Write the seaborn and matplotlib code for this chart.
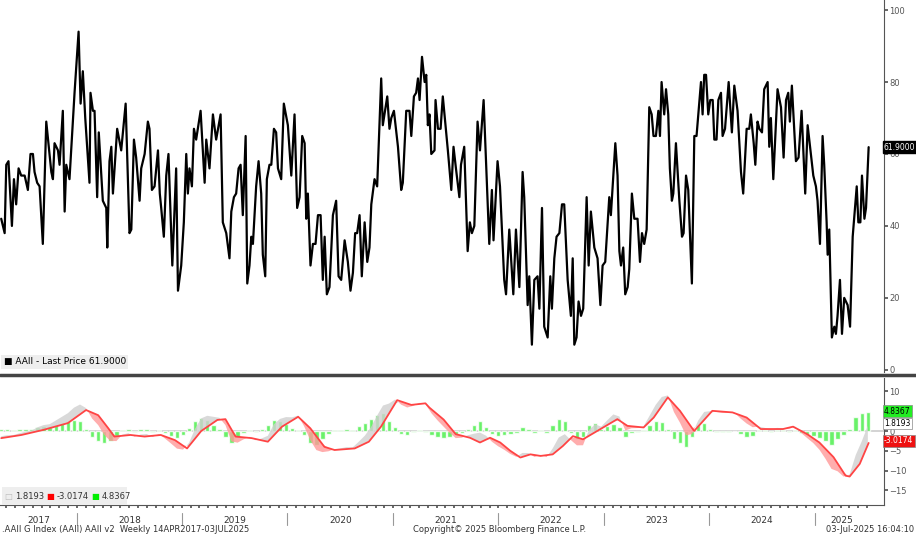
import matplotlib

matplotlib.use("Agg")
import matplotlib.pyplot as plt
import matplotlib.transforms as mtransforms
from matplotlib.patches import Rectangle
import numpy as np
import pandas as pd
import seaborn as sns

sns.set_theme(style="white")
plt.rcParams["font.family"] = ["DejaVu Sans"]

START = pd.Timestamp("2017-04-14")

# AAII index (weeks since 14-Apr-2017, value)
aaii_week = [
    0, 1.7, 2.5, 3.6, 5.3, 6.3, 7.4, 8.6, 9.9, 11.6, 13.2, 14.5, 15.7, 16.5, 17.8, 19.0,
    20.6, 22.3, 24.8, 25.6, 26.4, 28.1, 28.9, 30.5, 31.4, 32.2, 33.8, 36.3, 38.3, 39.3,
    40.4, 41.6, 43.7, 44.2, 45.4, 46.2, 47.5, 48.3, 50.3, 52.0, 52.5, 53.6, 54.5, 55.3,
    57.4, 59.4, 61.6, 63.5, 64.4, 65.7, 66.8, 68.5, 69.3, 71.0, 72.6, 73.4, 74.6, 75.9,
    77.6, 78.5, 79.2, 80.5, 81.7, 82.8, 84.7, 86.6, 87.5, 89.1, 90.4, 91.6, 92.4, 93.2,
    94.4, 95.4, 96.5, 98.7, 100.7, 101.5, 103.1, 104.8, 106.4, 108.6, 109.7, 111.4,
    113.0, 113.9, 115.2, 116.3, 117.5, 118.5, 119.6, 121.0, 121.8, 122.9, 123.8, 124.6,
    126.2, 127.4, 128.7, 129.5, 130.7, 131.5, 132.8, 133.7, 135.0, 136.1, 137.0, 138.6,
    139.9, 141.9, 143.6, 145.2, 146.5, 147.7, 149.0, 150.2, 151.0, 151.8, 153.1, 154.3,
    155.6, 156.8, 158.1, 159.2, 160.1, 161.2, 162.5, 164.2, 165.8, 167.0, 168.3, 170.0,
    171.6, 172.9, 174.1, 175.2, 176.2, 177.4, 178.5, 179.9, 181.2, 182.3, 183.2, 184.8,
    186.1, 188.1, 188.9, 191.1, 192.2, 193.1, 194.4, 196.4, 198.0, 198.8, 200.5, 202.1,
    203.0, 204.3, 205.4, 206.3, 207.1, 208.3, 209.6, 210.4, 211.2, 212.0, 212.9, 214.5,
    215.0, 216.2, 217.5, 218.6, 221.1, 222.8, 223.9, 225.1, 226.8, 227.6, 229.2, 230.9,
    232.0, 233.0, 234.2, 235.8, 237.0, 238.8, 241.6, 242.9, 243.7, 245.7, 246.9, 249.0,
    249.9, 251.5, 253.5, 254.8, 256.5, 258.1, 258.9, 260.6, 261.4, 262.7, 263.9, 265.5,
    266.4, 267.7, 268.8, 270.5, 271.8, 272.6, 273.8, 274.9, 276.3, 277.6, 278.7, 280.4,
    282.0, 282.9, 283.7, 284.8, 285.8, 287.0, 288.1, 289.8, 290.8, 291.9, 293.6, 295.2,
    296.6, 297.7, 299.0, 301.0, 301.8, 304.0, 305.1, 306.0, 306.8, 307.9, 308.9, 310.1,
    310.9, 312.2, 313.4, 315.0, 316.2, 317.2, 318.3, 319.5, 320.8, 322.0, 322.9, 324.1,
    325.3, 326.1, 326.9, 328.2, 329.1, 330.2, 331.0, 332.0, 332.7, 334.0, 335.7, 337.0,
    337.8, 339.0, 340.1, 341.9, 343.1, 344.2, 346.4, 347.2, 348.0, 348.9, 350.0, 351.0,
    352.2, 353.0, 354.1, 355.0, 356.3, 357.1, 358.3, 360.1, 361.7, 362.9, 364.5, 366.2,
    367.3, 369.0, 370.3, 371.1, 372.5, 373.3, 374.4, 375.3, 376.6, 377.7, 379.4, 380.2,
    381.0, 382.2, 384.3, 386.0, 387.3, 388.5, 389.6, 390.4, 391.4, 393.4, 394.7, 396.2,
    398.0, 399.2, 400.8, 402.0, 403.3, 404.1, 405.3, 406.6, 407.4, 408.6, 409.1, 409.9,
    411.2, 412.4, 413.2, 414.0, 415.2, 416.2, 417.3, 419.0, 420.2, 421.5, 422.8, 423.5,
    424.3, 425.3, 426.1, 427.3, 428.1, 429.4,
]
aaii_value = [
    42, 38, 57, 58, 40, 53, 46, 56, 54, 54, 50, 60, 60, 55, 52, 51,
    35, 69, 55, 53, 63, 61, 57, 72, 44, 57, 53, 77, 94, 74,
    83, 70, 52, 77, 72, 72, 48, 66, 47, 45, 34, 58, 62, 49,
    67, 61, 74, 38, 39, 64, 59, 47, 56, 60, 69, 67, 50, 51,
    61, 49, 45, 37, 54, 60, 29, 56, 22, 29, 41, 60, 49, 56,
    51, 67, 64, 72, 52, 64, 56, 71, 64, 71, 41, 38,
    31, 44, 48, 49, 56, 57, 43, 65, 24, 29, 37, 35,
    51, 58, 49, 32, 26, 53, 57, 57, 67, 66, 56, 53,
    74, 68, 54, 71, 45, 48, 65, 63, 42, 49, 29, 35,
    35, 43, 43, 25, 37, 21, 23, 43, 47, 26, 25, 36,
    30, 22, 27, 38, 38, 43, 26, 41, 30, 34, 46, 53,
    51, 81, 68, 76, 67, 70, 72, 62, 50, 52, 72, 72,
    65, 76, 77, 81, 75, 87, 80, 82, 68, 71, 60, 61,
    75, 67, 67, 76, 61, 50, 62, 56, 48, 57, 62, 33,
    41, 38, 40, 69, 61, 75, 35, 50, 36, 58, 51, 25,
    21, 39, 21, 39, 23, 55, 48, 18, 26, 7, 25, 26,
    17, 45, 12, 9, 26, 17, 31, 37, 38, 46, 46, 25,
    15, 31, 7, 9, 19, 15, 17, 48, 29, 44, 34, 31,
    18, 29, 30, 48, 43, 63, 54, 33, 29, 34, 21, 23,
    28, 49, 42, 42, 30, 38, 35, 39, 73, 71, 65, 65,
    72, 65, 80, 71, 78, 71, 56, 47, 49, 63, 47, 37,
    38, 54, 50, 24, 65, 65, 80, 71, 82, 82, 71, 75,
    75, 64, 64, 75, 77, 65, 67, 80, 66, 79, 72, 55,
    49, 67, 67, 71, 63, 57, 69, 67, 66, 78, 80, 62,
    70, 53, 78, 73, 59, 75, 77, 69, 79, 58, 59, 72,
    49, 68, 60, 54, 51, 47, 35, 65, 57, 41, 32, 39,
    9, 12, 10, 15, 25, 10, 20, 18, 12, 37, 46, 51,
    41, 41, 54, 42, 45, 61.9,
]

# signal line (red), read at knots
signal_week = [0, 10, 21, 33, 42, 48, 53, 56, 64, 71, 79, 86, 92, 99, 107, 111, 116, 124,
               132, 139, 147, 153, 160, 165, 175, 182, 188, 196, 203, 210, 212, 219, 225,
               232, 237, 242, 247, 252, 257, 262, 267, 273, 278, 283, 288, 295, 305, 310,
               318, 323, 330, 336, 343, 352, 362, 369, 376, 387, 392, 399, 405, 412, 418,
               420, 425, 429.4]
signal_value = [-1.8, -1.0, 0.3, 2.0, 5.3, 4.0, 0.7, -1.4, -1.0, -1.4, -1.0, -2.3, -4.4, 0.0,
                2.8, 3.0, -1.4, -1.8, -2.7, 1.1, 3.6, 0.7, -4.0, -4.8, -4.4, -2.7, 1.1, 7.8,
                6.6, 7.0, 5.9, 2.9, -0.8, -1.7, -2.9, -1.7, -2.9, -5.0, -6.7, -5.9, -6.3,
                -5.9, -3.8, -1.3, -2.1, 0.0, 3.0, 1.3, 0.9, 3.4, 8.5, 5.1, 0.0, 5.1, 4.7,
                3.4, 0.5, 0.5, 1.1, -0.8, -2.9, -6.6, -11.3, -11.5, -8.3, -3.0174]

# histogram (green), every 3 weeks
hist_week = list(range(0, 430, 3))
hist_value = [
    0.5, 0.5, 0.3, 0.5, 0.6, 0.5, 1.0, 1.2, 1.0, 1.5, 2.0, 2.5, 2.8, 2.5, 0.5, -1.5,
    -2.5, -3.0, -2.5, -1.2, 0.3, 0.5, -0.3, 0.4, 0.6, -0.3, 0.3, -0.5, -1.2, -1.8, -1.0,
    0.8, 2.5, 3.2, 2.8, 1.5, 0.5, -1.5, -3.0, -1.5, -0.5, 0.3, -0.3, 0.5, 1.5, 2.8, 2.5,
    1.8, 0.8, 0.3, -1.0, -3.0, -3.5, -2.0, -0.8, 0.2, 0.3, 0.5, 0.3, 1.2, 2.0, 3.0, 4.0,
    4.5, 2.5, 1.0, -0.8, -1.0, -0.3, 0.3, -0.2, -1.0, -1.5, -1.8, -1.5, -1.0, -0.5, 0.5,
    1.5, 2.5, 1.0, -0.8, -1.2, -1.0, -0.8, -0.5, 1.0, 0.5, -0.5, 0.3, -0.5, 1.5, 3.0,
    2.5, -0.5, -2.0, -1.5, 1.5, 2.0, 0.5, 1.2, 1.8, 1.0, -1.5, -0.5, -0.3, 0.3, 1.5, 2.5,
    2.3, 0.5, -2.0, -3.0, -4.0, -1.5, 1.5, 2.0, 0.5, -0.2, -0.3, -0.2, 0.1, -0.8, -1.5,
    -1.2, 0.2, 0.3, -0.2, 0.3, 0.2, -0.3, 0.3, -0.5, -1.0, -1.2, -1.8, -2.5, -3.5, -2.0,
    -1.0, 0.5, 3.5, 4.5, 4.8367,
]

years = list(range(2017, 2026))

main = pd.DataFrame({"week": aaii_week, "AAII": aaii_value})
sig = pd.DataFrame({"week": signal_week, "signal": signal_value})
hist = pd.DataFrame({"week": hist_week, "hist": hist_value})
hist["signal"] = np.interp(hist["week"], sig["week"], sig["signal"])
hist["macd"] = hist["signal"] + hist["hist"]

fig = plt.figure(figsize=(9.16, 5.36), dpi=100)
ax1 = fig.add_axes([0, 1 - 372 / 536, 884 / 916, 372 / 536])
ax2 = fig.add_axes([0, 1 - 505 / 536, 884 / 916, 127 / 536])
XMAX = 437
TXT = "#333333"

# top panel
sns.lineplot(data=main, x="week", y="AAII", ax=ax1, color="black", lw=1.6)
ax1.set_xlim(-0.6, XMAX)
ax1.set_ylim(-0.6, 102.8)
ax1.yaxis.tick_right()
ax1.set_yticks([0, 20, 40, 60, 80, 100])
ax1.tick_params(axis="y", labelsize=6, colors="#555555", length=3, pad=1, direction="out")
ax1.set_xticks([])
ax1.set_xlabel("")
ax1.set_ylabel("")
for s in ["top", "left", "bottom"]:
    ax1.spines[s].set_visible(False)
ax1.spines["right"].set_color("#555555")
ax1.spines["right"].set_linewidth(0.8)
ax1.text(1.0, 61.9, "61.9000", transform=ax1.get_yaxis_transform(), fontsize=5.5,
         color="white", va="center", ha="left",
         bbox=dict(boxstyle="square,pad=0.15", fc="black", ec="black"))
ax1.text(0.004, 0.015, "\u25a0 AAII - Last Price 61.9000", transform=ax1.transAxes,
         fontsize=6.5, color="black", va="bottom",
         bbox=dict(boxstyle="square,pad=0.3", fc="#eeeeee", ec="none"))

# lower panel
ax2.axhline(0, color="#cccccc", lw=1.2, zorder=0)
ax2.bar(hist["week"], hist["hist"], width=2.2, color="#44ee44", alpha=0.8, zorder=1)
ax2.fill_between(hist["week"], hist["signal"], hist["macd"],
                 where=hist["macd"] >= hist["signal"], interpolate=True,
                 color="#d0d0d0", alpha=0.8, lw=0, zorder=2)
ax2.fill_between(hist["week"], hist["signal"], hist["macd"],
                 where=hist["macd"] < hist["signal"], interpolate=True,
                 color="#ff9999", alpha=0.8, lw=0, zorder=2)
sns.lineplot(data=sig, x="week", y="signal", ax=ax2, color="#ff4444", lw=1.3, zorder=3)
ax2.set_xlim(-0.6, XMAX)
ax2.set_ylim(-18.7, 13.4)
ax2.yaxis.tick_right()
ax2.set_yticks([10, 5, 0, -5, -10, -15])
ax2.tick_params(axis="y", labelsize=6, colors="#555555", length=3, pad=1, direction="out")
ax2.set_xlabel("")
ax2.set_ylabel("")
for s in ["top", "left"]:
    ax2.spines[s].set_visible(False)
ax2.spines["right"].set_color("#555555")
ax2.spines["bottom"].set_color("#555555")
ax2.spines["right"].set_linewidth(0.8)
ax2.spines["bottom"].set_linewidth(0.8)

tags = [(4.8367, "4.8367", "#22ee22", "black"),
        (1.8193, "1.8193", "white", "black"),
        (-3.0174, "-3.0174", "#ee1111", "white")]
offsets = [0.2, 0.0, 0.5]
for (v, label, fc, tc), off in zip(tags, offsets):
    ax2.text(1.0, v + off, label, transform=ax2.get_yaxis_transform(), fontsize=5.5,
             color=tc, va="center", ha="left", zorder=6,
             bbox=dict(boxstyle="square,pad=0.15", fc=fc, ec="#888888", lw=0.5))

# legend strip
ax2.add_patch(Rectangle((0.002, 0.0), 0.142, 0.14, transform=ax2.transAxes,
                        fc="#eeeeee", ec="none", zorder=4))
legend_items = [(0.005, "\u25a1", "#bbbbbb", "1.8193"),
                (0.052, "\u25a0", "#ff0000", "-3.0174"),
                (0.103, "\u25a0", "#00ee00", "4.8367")]
for x0, mark, col, label in legend_items:
    ax2.text(x0, 0.035, mark, transform=ax2.transAxes, fontsize=6, color=col,
             va="bottom", zorder=5)
    ax2.text(x0 + 0.012, 0.035, label, transform=ax2.transAxes, fontsize=6, color=TXT,
             va="bottom", zorder=5)

# time axis: month ticks, year dividers and labels
def to_week(date):
    return (pd.Timestamp(date) - START).days / 7.0

months = pd.date_range("2017-05-01", "2025-07-01", freq="MS")
ax2.set_xticks([to_week(m) for m in months])
ax2.set_xticklabels([])
ax2.tick_params(axis="x", length=2.5, color="#555555", direction="out", bottom=True)

trans = mtransforms.blended_transform_factory(ax2.transData, ax2.transAxes)
for y in years:
    lo = max(to_week(f"{y}-01-01"), -0.6)
    hi = min(to_week(f"{y + 1}-01-01"), 429.4)
    if y > 2017:
        ax2.plot([lo, lo], [-0.06, -0.16], transform=trans, color="#999999", lw=0.8,
                 clip_on=False)
    ax2.text((lo + hi) / 2, -0.12, str(y), transform=trans, fontsize=6.5, color=TXT,
             ha="center", va="center")

fig.text(0.002, 0.004, ".AAII G Index (AAII) AAII v2  Weekly 14APR2017-03JUL2025",
         fontsize=6, color=TXT, ha="left", va="bottom")
fig.text(0.545, 0.004, "Copyright\u00a9 2025 Bloomberg Finance L.P.", fontsize=6,
         color=TXT, ha="center", va="bottom")
fig.text(0.998, 0.004, "03-Jul-2025 16:04:10", fontsize=6, color=TXT, ha="right",
         va="bottom")

# panel separator
fig.add_artist(plt.Line2D([0, 1], [1 - 375 / 536] * 2, color="#444444", lw=2.5))

fig.savefig("out.png", dpi=100)
plt.close(fig)
